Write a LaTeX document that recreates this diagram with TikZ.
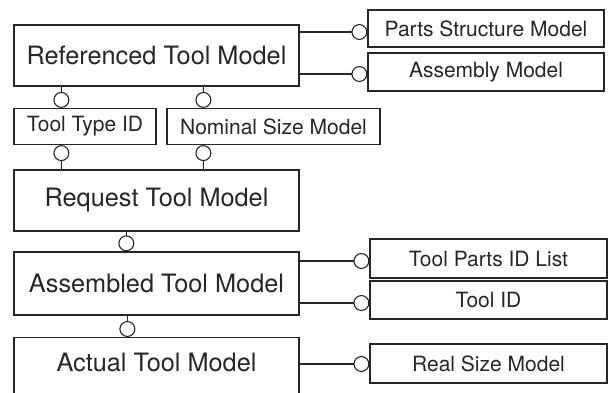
\documentclass[tikz,border=0pt]{standalone}
\usepackage{fontspec}
\setmainfont{TeX Gyre Heros}
\usetikzlibrary{arrows.meta,positioning,calc}
\definecolor{inkGrey}{RGB}{38,38,38}
\tikzset{
	mbox/.style={
		draw=inkGrey,
		line width=1.3pt,
		text=inkGrey,
		inner sep=0pt,
		minimum width=285pt,
		font=\fontsize{25.3}{29}\selectfont
	},
	ibox/.style={
		draw=inkGrey,
		line width=1.2pt,
		text=inkGrey,
		inner sep=0pt,
		font=\fontsize{21}{25}\selectfont
	},
	olink/.style={line width=1.1pt, inkGrey, -{Circle[open,length=16pt,width=16pt]}},
	ilink/.style={line width=1.1pt, inkGrey, {Circle[open,length=16pt,width=16pt]}-}
}

\begin{document}
\begin{tikzpicture}[x=1pt, y=-1pt]
		\useasboundingbox (0,0) rectangle (615,392);
		% left column
		\node[mbox, minimum height=61pt] (ref) at (156.5,55.5) {Referenced Tool Model};
		\node[ibox, minimum width=142pt, minimum height=36pt] (ttid) at (85,126.5) {Tool Type ID};
		\node[ibox, minimum width=213pt, minimum height=36pt] (nom) at (273.5,126.5) {Nominal Size Model};
		\node[mbox, minimum height=61pt] (req) at (156.5,200.5) {Request Tool Model};
		\node[mbox, minimum height=63pt] (asm) at (156.5,283.5) {Assembled Tool Model};
		\node[mbox, minimum height=62pt, text depth=12pt, anchor=north] (act) at (156.5,337) {Actual Tool Model};
		% right column
		\node[ibox, minimum width=236pt, minimum height=37pt] (psm) at (486,28.5) {Parts Structure Model};
		\node[ibox, minimum width=236pt, minimum height=38pt] (amod) at (486,72) {Assembly Model};
		\node[ibox, minimum width=237pt, minimum height=39pt] (tpl) at (488.5,258.5) {Tool Parts ID List};
		\node[ibox, minimum width=237pt, minimum height=38pt] (tid) at (488.5,300) {Tool ID};
		\node[ibox, minimum width=237pt, minimum height=39pt] (rsm) at (488.5,363.5) {Real Size Model};
		% vertical links
		\draw[olink] ([xshift=48]ref.south west) -- ([xshift=48]ttid.north west);
		\draw[olink] ([xshift=190]ref.south west) -- ([xshift=37]nom.north west);
		\draw[ilink] ([xshift=48]ttid.south west) -- ([xshift=48]req.north west);
		\draw[ilink] ([xshift=37]nom.south west) -- ([xshift=190]req.north west);
		\draw[olink] ([xshift=113]req.south west) -- ([xshift=113]asm.north west);
		\draw[olink] ([xshift=114]asm.south west) -- ([xshift=114]act.north west);
		% horizontal links
		\draw[olink] ([yshift=-3.5]psm.west -| ref.east) -- ([yshift=-3.5]psm.west);
		\draw[olink] ([yshift=-2]amod.west -| ref.east) -- ([yshift=-2]amod.west);
		\draw[olink] ([yshift=-2.5]tpl.west -| asm.east) -- ([yshift=-2.5]tpl.west);
		\draw[olink] ([yshift=-3]tid.west -| asm.east) -- ([yshift=-3]tid.west);
		\draw[olink] ([yshift=-0.5]rsm.west -| act.east) -- ([yshift=-0.5]rsm.west);
	\end{tikzpicture}
\end{document}
